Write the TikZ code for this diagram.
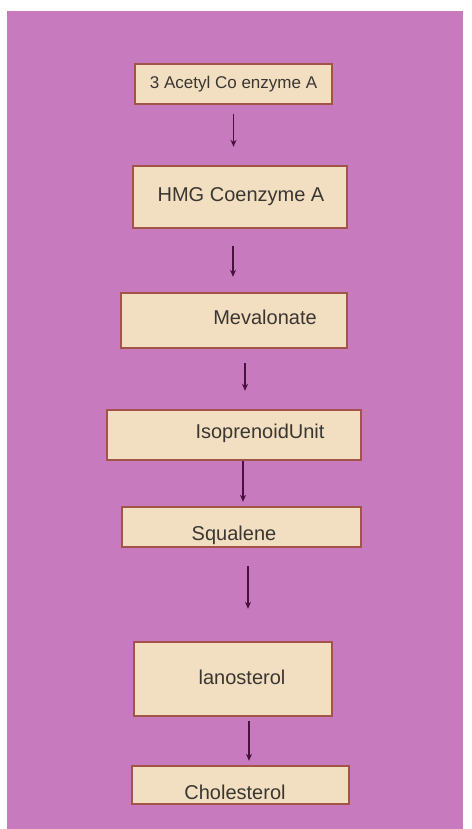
\documentclass[tikz,border=0pt]{standalone}
\usepackage{fontspec}
\setmainfont{Liberation Sans}
\usepackage{xcolor}
\usetikzlibrary{arrows.meta}
\usetikzlibrary{calc}

\definecolor{pagepurple}{RGB}{200,122,190}
\definecolor{boxfill}{RGB}{242,222,192}
\definecolor{boxline}{RGB}{162,84,72}
\definecolor{arrowdark}{RGB}{72,18,62}
\definecolor{textgray}{RGB}{58,54,50}

\tikzset{
  stepbox/.style={rectangle,draw=boxline,fill=boxfill,line width=2.4pt,inner sep=0pt},
  steptext/.style={text=textgray,font=\fontsize{20}{24}\selectfont},
  flow/.style={draw=arrowdark,line width=1.3pt,-{Stealth[length=7pt,width=6pt]}}
}

\begin{document}
\begin{tikzpicture}[x=1pt,y=-1pt]
    \useasboundingbox (0,0) rectangle (471,829);
    \fill[white] (0,0) rectangle (471,829);
    \fill[pagepurple] (7,11) rectangle (463,829);
    % pathway boxes
    \node (acetyl)[stepbox,minimum width=197,minimum height=40,
      label={[steptext,font=\fontsize{17}{20}\selectfont]center:3 Acetyl Co enzyme A}] at (233.5,84) {};
    \node (hmg)[stepbox,minimum width=214,minimum height=62,
      label={[steptext,xshift=1pt]center:HMG Coenzyme A}] at (240,197) {};
    \node (meva)[stepbox,minimum width=226,minimum height=55,
      label={[steptext,xshift=31pt,yshift=3pt]center:Mevalonate}] at (234,320.5) {};
    \node (iso)[stepbox,minimum width=254,minimum height=50,
      label={[steptext,xshift=26pt,yshift=2pt]center:IsoprenoidUnit}] at (234,435) {};
    \node (squa)[stepbox,minimum width=239,minimum height=40,
      label={[steptext,xshift=-7.5pt,yshift=-8pt]center:Squalene}] at (241.5,527) {};
    \node (lano)[stepbox,minimum width=198,minimum height=74,
      label={[steptext,xshift=9pt,yshift=2pt]center:lanosterol}] at (233,679) {};
    \node (chol)[stepbox,minimum width=217,minimum height=38,
      label={[steptext,xshift=-5.5pt,yshift=-7pt]center:Cholesterol}] at (240.5,785) {};
    % arrows
    \begin{scope}[every edge/.style={flow}]
      \path (acetyl.south) edge[shorten <=9pt,shorten >=18pt] (acetyl.south |- hmg.north);
      \path ($(hmg.south)+(-7,0)$) edge[shorten <=17pt,shorten >=15pt] ($(hmg.south |- meva.north)+(-7,0)$);
      \path ($(meva.south)+(11,0)$) edge[shorten <=14pt,shorten >=18pt] ($(meva.south |- iso.north)+(11,0)$);
      \path ($(iso.south)+(9,0)$) edge[shorten >=4pt] ($(iso.south |- squa.north)+(9,0)$);
      \path ($(squa.south)+(6.5,0)$) edge[shorten <=18pt,shorten >=32pt] ($(squa.south |- lano.north)+(6.5,0)$);
      \path ($(lano.south)+(16,0)$) edge[shorten <=4pt,shorten >=4pt] ($(lano.south |- chol.north)+(16,0)$);
    \end{scope}
\end{tikzpicture}
\end{document}
